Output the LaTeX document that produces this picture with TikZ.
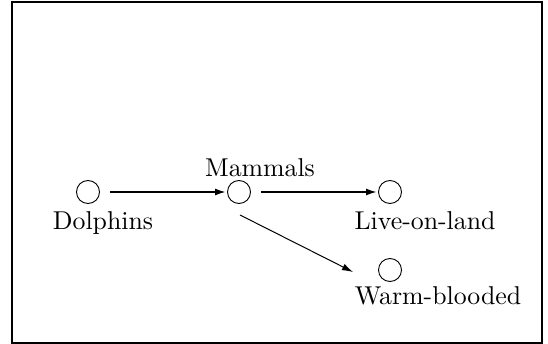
\documentclass[tikz,border=0pt]{standalone}
\usetikzlibrary{arrows.meta}
\newcommand{\biglabel}[1]{\scalebox{2.58}{\normalsize #1}}
\begin{document}
\begin{tikzpicture}[x=1pt,y=-1pt,
  concept/.style={circle,draw,line width=0.9pt,minimum size=23pt,inner sep=0pt},
  lbl/.style={inner sep=0pt,anchor=base},
  link/.style={line width=1.8pt,-{Latex[length=11pt,width=7pt]}},
  thinlink/.style={line width=1pt,-{Latex[length=11pt,width=7pt]}}]
\useasboundingbox (0,0) rectangle (548,344);
\draw[line width=2pt] (12,2) rectangle (542,343);
% concept circles
\node[concept] (dol) at (88,192) {};
\node[concept] (mam) at (239,192) {};
\node[concept] (liv) at (390,192) {};
\node[concept] (wrm) at (390,270) {};
% labels
\node[lbl] (tdol) at (103,230) {\biglabel{Dolphins}};
\node[lbl] (tmam) at (260,177) {\biglabel{Mammals}};
\node[lbl] (tliv) at (425,230) {\biglabel{Live-on-land}};
\node[lbl] (twrm) at (438,305) {\biglabel{Warm-blooded}};
% relations
\coordinate (d0) at (110,192);
\coordinate (d1) at (226,192);
\draw[link] (d0) -- (d1);
\coordinate (m0) at (261,192);
\coordinate (m1) at (377,192);
\draw[link] (m0) -- (m1);
\coordinate (w0) at (240,215);
\coordinate (w1) at (353,272);
\draw[thinlink] (w0) -- (w1);
\end{tikzpicture}
\end{document}
